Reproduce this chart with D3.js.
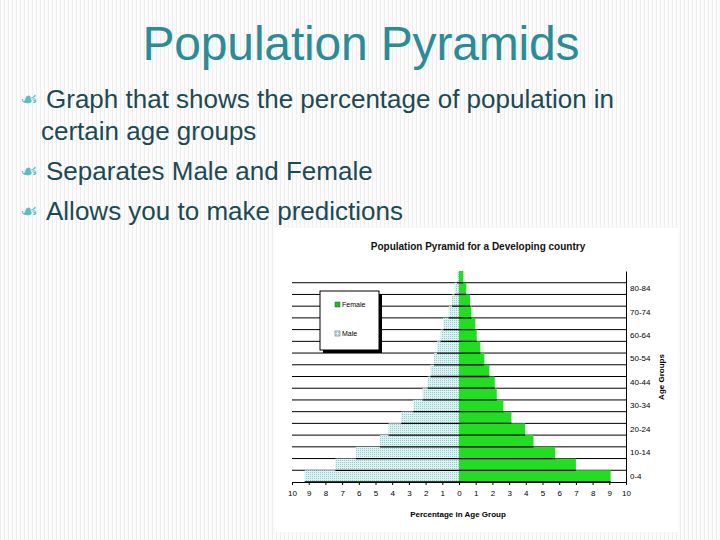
<!DOCTYPE html>
<html><head><meta charset="utf-8">
<script src="https://cdn.jsdelivr.net/npm/d3@7"></script>
<style>body{margin:0;background:#fff}svg{display:block}</style>
</head><body>
<script>
const ageGroups = ['85+','80-84','75-79','70-74','65-69','60-64','55-59','50-54','45-49','40-44','35-39','30-34','25-29','20-24','15-19','10-14','5-9','0-4'];
const female = [0.26,0.44,0.66,0.74,0.98,1.06,1.28,1.52,1.82,2.14,2.26,2.66,3.14,3.96,4.46,5.76,7.0,9.08];
const male = [0.12,0.26,0.42,0.62,0.94,1.1,1.32,1.5,1.7,1.88,2.18,2.74,3.46,4.22,4.74,6.18,7.4,9.24];
const xTicks = d3.range(-10, 11);
const bullets = [['Graph that shows the percentage of population in', 'certain age groups'], ['Separates Male and Female'], ['Allows you to make predictions']];

const svg = d3.select('body').append('svg').attr('width', 720).attr('height', 540);

// striped slide background
const defs = svg.append('defs');
const pat = defs.append('pattern').attr('id', 'stripes').attr('width', 4).attr('height', 4).attr('patternUnits', 'userSpaceOnUse');
pat.append('rect').attr('width', 4).attr('height', 4).attr('fill', '#fbfbfb');
pat.append('rect').attr('width', 1).attr('height', 4).attr('fill', '#eeeeee');
const dots = defs.append('pattern').attr('id', 'dots').attr('width', 2).attr('height', 2).attr('patternUnits', 'userSpaceOnUse');
dots.append('rect').attr('width', 2).attr('height', 2).attr('fill', '#d8f4f4');
dots.append('rect').attr('width', 1).attr('height', 1).attr('fill', '#9cc8c8');
svg.append('rect').attr('width', 720).attr('height', 540).attr('fill', 'url(#stripes)');

svg.append('text').attr('x', 361).attr('y', 60).attr('text-anchor', 'middle')
  .attr('font-family', 'Liberation Sans, Arial').attr('font-size', 48).attr('fill', '#2b8c96')
  .attr('textLength', 437).text('Population Pyramids');

let y = 108;
bullets.forEach(b => {
  svg.append('text').attr('x', 20).attr('y', y - 2).attr('font-family', 'DejaVu Sans').attr('font-size', 20).attr('fill', '#5cbcc4').text('☙');
  b.forEach((line, i) => {
    svg.append('text').attr('x', i ? 41 : 46).attr('y', y).attr('font-family', 'Liberation Sans, Arial')
      .attr('font-size', 26).attr('fill', '#1d4a52').text(line);
    y += i < b.length - 1 ? 32 : 40;
  });
});

// chart panel
svg.append('rect').attr('x', 275).attr('y', 228).attr('width', 403).attr('height', 304).attr('fill', '#fff');
svg.append('text').attr('x', 478).attr('y', 250).attr('text-anchor', 'middle').attr('font-family', 'Liberation Sans, Arial')
  .attr('font-size', 10).attr('font-weight', 'bold').attr('fill', '#111').text('Population Pyramid for a Developing country');

const x = d3.scaleLinear().domain([-10, 10]).range([292, 626]);
const yb = d3.scaleBand().domain(ageGroups).range([271, 482]).padding(0);

const g = svg.append('g');
g.selectAll('line.grid').data(ageGroups.slice(1)).join('line')
  .attr('x1', 292).attr('x2', 626).attr('y1', d => yb(d)).attr('y2', d => yb(d))
  .attr('stroke', '#000').attr('stroke-width', 1);

g.selectAll('rect.m').data(ageGroups).join('rect')
  .attr('x', (d, i) => x(-male[i])).attr('y', d => yb(d)).attr('width', (d, i) => x(0) - x(-male[i]))
  .attr('height', yb.bandwidth()).attr('fill', 'url(#dots)');
g.selectAll('rect.f').data(ageGroups).join('rect')
  .attr('x', x(0)).attr('y', d => yb(d)).attr('width', (d, i) => x(female[i]) - x(0))
  .attr('height', yb.bandwidth()).attr('fill', '#22dd22');
g.selectAll('line.bs').data(ageGroups).join('line')
  .attr('x1', (d, i) => x(-male[i])).attr('x2', (d, i) => x(female[i]))
  .attr('y1', d => yb(d) + yb.bandwidth()).attr('y2', d => yb(d) + yb.bandwidth()).attr('stroke', '#000').attr('stroke-width', 1.3);

const xa = svg.append('g').attr('transform', 'translate(0,482)')
  .call(d3.axisBottom(x).tickValues(xTicks).tickFormat(d => Math.abs(d)).tickSize(3));
xa.selectAll('text').attr('font-family', 'Liberation Sans, Arial').attr('font-size', 8).attr('dy', 8);
xa.select('.domain').attr('stroke', '#000');

const ya = svg.append('g').attr('transform', 'translate(626,0)')
  .call(d3.axisRight(yb).tickValues(ageGroups.filter((d, i) => i % 2 === 1)).tickSize(0).tickPadding(4));
ya.selectAll('text').attr('font-family', 'Liberation Sans, Arial').attr('font-size', 8);
ya.select('.domain').attr('stroke', '#000');

svg.append('text').attr('transform', 'translate(664,377) rotate(-90)').attr('text-anchor', 'middle')
  .attr('font-family', 'Liberation Sans, Arial').attr('font-size', 8).attr('font-weight', 'bold').text('Age Groups');
svg.append('text').attr('x', 458).attr('y', 517).attr('text-anchor', 'middle')
  .attr('font-family', 'Liberation Sans, Arial').attr('font-size', 8).attr('font-weight', 'bold').text('Percentage in Age Group');

// legend
svg.append('rect').attr('x', 323).attr('y', 294).attr('width', 59).attr('height', 59).attr('fill', '#000');
svg.append('rect').attr('x', 320).attr('y', 291).attr('width', 59).attr('height', 59).attr('fill', '#fff').attr('stroke', '#000');
[['Female', '#22bb22', 306], ['Male', 'url(#dots)', 335]].forEach(([t, c, ly]) => {
  svg.append('rect').attr('x', 335).attr('y', ly - 4).attr('width', 5).attr('height', 5).attr('fill', c).attr('stroke', '#444').attr('stroke-width', 0.5);
  svg.append('text').attr('x', 342).attr('y', ly + 1).attr('font-family', 'Liberation Sans, Arial').attr('font-size', 7).text(t);
});
</script>
</body></html>
